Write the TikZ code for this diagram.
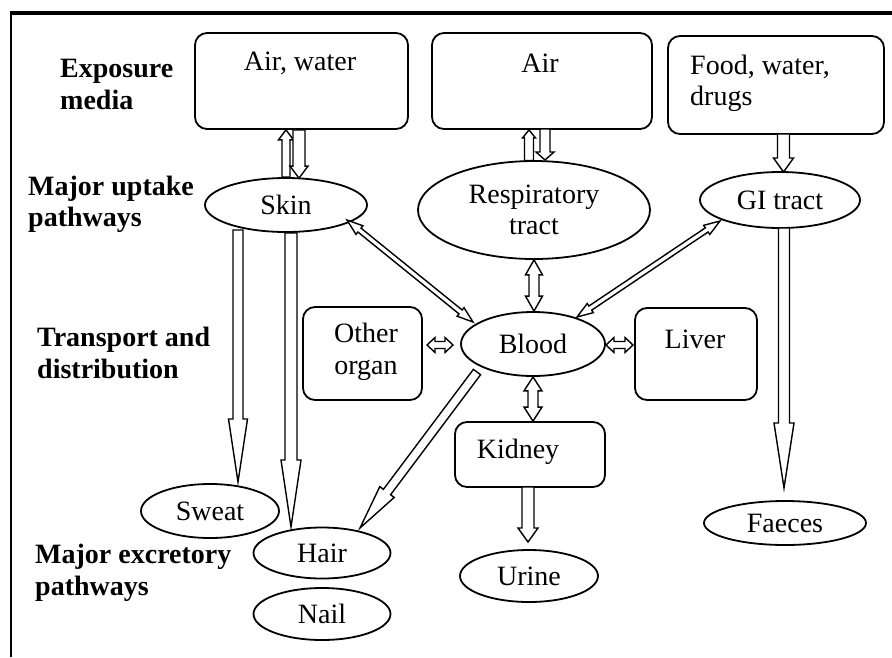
\documentclass[tikz,border=0pt]{standalone}
\usepackage{fontspec}
\setmainfont{Liberation Serif}
\usetikzlibrary{shapes.geometric,calc}
\newcommand\hollowarr[5]{% start, end, shaft half-width, head half-width, head length
  \coordinate (hbA) at ($(#2)!#5pt!(#1)$);
  \draw[arr] ($(#1)!#3pt!90:(#2)$) -- ($(hbA)!#3pt!90:(#2)$) -- ($(hbA)!#4pt!90:(#2)$) -- (#2)
    -- ($(hbA)!#4pt!-90:(#2)$) -- ($(hbA)!#3pt!-90:(#2)$) -- ($(#1)!#3pt!-90:(#2)$) -- cycle;
}
\newcommand\hollowdarr[5]{% both ends
  \coordinate (hbA) at ($(#1)!#5pt!(#2)$);
  \coordinate (hbB) at ($(#2)!#5pt!(#1)$);
  \draw[arr] (#1) -- ($(hbA)!#4pt!90:(#2)$) -- ($(hbA)!#3pt!90:(#2)$) -- ($(hbB)!#3pt!90:(#2)$)
    -- ($(hbB)!#4pt!90:(#2)$) -- (#2) -- ($(hbB)!#4pt!-90:(#2)$) -- ($(hbB)!#3pt!-90:(#2)$)
    -- ($(hbA)!#3pt!-90:(#2)$) -- ($(hbA)!#4pt!-90:(#2)$) -- cycle;
}
\begin{document}
\begin{tikzpicture}[x=1pt,y=-1pt,
  box/.style={draw, rounded corners=12pt, line width=1.8pt, inner sep=0pt},
  oval/.style={draw, ellipse, line width=1.8pt, inner sep=0pt, font=\fontsize{28}{31.5}\selectfont, align=center},
  lbl/.style={font=\fontsize{28}{31.5}\selectfont\bfseries, align=left, anchor=west, inner sep=0pt},
  txt/.style={font=\fontsize{28}{31.5}\selectfont, inner sep=0pt, align=center},
  arr/.style={draw, line width=1.4pt, fill=white, line join=miter}
]
\useasboundingbox (0,0) rectangle (892,657);
% frame
\draw[line width=3.2pt] (10,13) -- (892,13);
\draw[line width=1.8pt] (11,13) -- (11,657);

% left labels
\node[lbl] (l1) at (60,84.5) {Exposure\\media};
\node[lbl] (l2) at (28,204.5) {Major uptake\\pathways};
\node[lbl] (l3) at (37,353) {Transport and\\distribution};
\node[lbl] (l4) at (35,573) {Major excretory\\pathways};

% boxes
\node[box, minimum width=213, minimum height=96] (aw) at (301.5,81) {};
\node[txt] (awt) at (300,63) {Air, water};
\node[box, minimum width=220, minimum height=96] (air) at (542,81) {};
\node[txt] (airt) at (540,63) {Air};
\node[box, minimum width=216, minimum height=98] (food) at (776,85) {};
\node[txt, align=left, anchor=west] (foodt) at (690,83.5) {Food, water,\\drugs};
\node[box, minimum width=119, minimum height=93] (other) at (362.5,353.5) {};
\node[txt] (othert) at (366,352) {Other\\organ};
\node[box, minimum width=122, minimum height=92] (liver) at (696,354) {};
\node[txt] (livert) at (695,339) {Liver};
\node[box, minimum width=150, minimum height=65] (kidney) at (530,454.5) {};
\node[txt] (kidneyt) at (518,452) {Kidney};

% ellipses
\node[oval, minimum width=162, minimum height=54] (skin) at (286,205) {Skin};
\node[oval, minimum width=232, minimum height=98] (resp) at (534,210) {Respiratory\\tract};
\node[oval, minimum width=160, minimum height=56] (gi) at (780,200) {GI tract};
\node[oval, minimum width=144, minimum height=64] (blood) at (533,344) {Blood};
\node[oval, minimum width=138, minimum height=54] (sweat) at (210,511) {Sweat};
\node[oval, minimum width=137, minimum height=51] (hair) at (322,553) {Hair};
\node[oval, minimum width=137, minimum height=52] (nail) at (322,614) {Nail};
\node[oval, minimum width=138, minimum height=52] (urine) at (529,576) {Urine};
\node[oval, minimum width=162, minimum height=44] (faeces) at (785,523) {Faeces};

% connector end points
\coordinate (awU) at (skin.north |- aw.south);
\coordinate (awD1) at ($(aw.south)+(-2.5,0)$);
\coordinate (awD2) at ($(skin.north)+(13,1)$);
\coordinate (arU1) at ($(resp.north)+(-5,0.5)$);
\coordinate (arU2) at (arU1 |- air.south);
\coordinate (arD1) at (545,129);
\coordinate (arD2) at (545,160);
\coordinate (fg1) at (783.5,134);
\coordinate (fg2) at (783.5,172);
\coordinate (rb2) at (resp.south |- blood.north);
\coordinate (bk) at (blood.south |- kidney.north);
\coordinate (ob1) at (427,345);
\coordinate (ob2) at (453,345);
\coordinate (bl1) at (606,345);
\coordinate (bl2) at (633,345);
\coordinate (ku1) at (528,487);
\coordinate (ku2) at (528,542);
\coordinate (sw1) at (238,230);
\coordinate (sw2) at (238,482);
\coordinate (sh1) at (291,233);
\coordinate (sh2) at (291,527);
\coordinate (gf1) at (784,228);
\coordinate (gf2) at (784,488);
\coordinate (bh1) at (477,372);
\coordinate (bh2) at (360,528);
\coordinate (sb1) at (347,220);
\coordinate (sb2) at (473,322);
\coordinate (gb1) at (720,221);
\coordinate (gb2) at (577,317);

% connectors
\hollowarr{skin.north}{awU}{4}{7.5}{10}
\hollowarr{awD1}{awD2}{6}{9}{12}
\hollowarr{arU1}{arU2}{4.5}{6.5}{8}
\hollowarr{arD1}{arD2}{5}{9}{8}
\hollowarr{fg1}{fg2}{6}{10}{14}
\hollowdarr{resp.south}{rb2}{5}{8.5}{15}
\hollowdarr{blood.south}{bk}{5}{9}{14}
\hollowdarr{ob1}{ob2}{3.5}{7.5}{8}
\hollowdarr{bl1}{bl2}{3.5}{7.5}{8}
\hollowarr{ku1}{ku2}{6}{10}{14}
\hollowarr{sw1}{sw2}{5}{9.5}{63}
\hollowarr{sh1}{sh2}{6}{10}{67}
\hollowarr{gf1}{gf2}{5.5}{10}{65}
\hollowarr{bh1}{bh2}{4.5}{9}{45}
\hollowdarr{sb1}{sb2}{2.5}{5.5}{16}
\hollowdarr{gb1}{gb2}{2.5}{5.5}{16}
\end{tikzpicture}
\end{document}
